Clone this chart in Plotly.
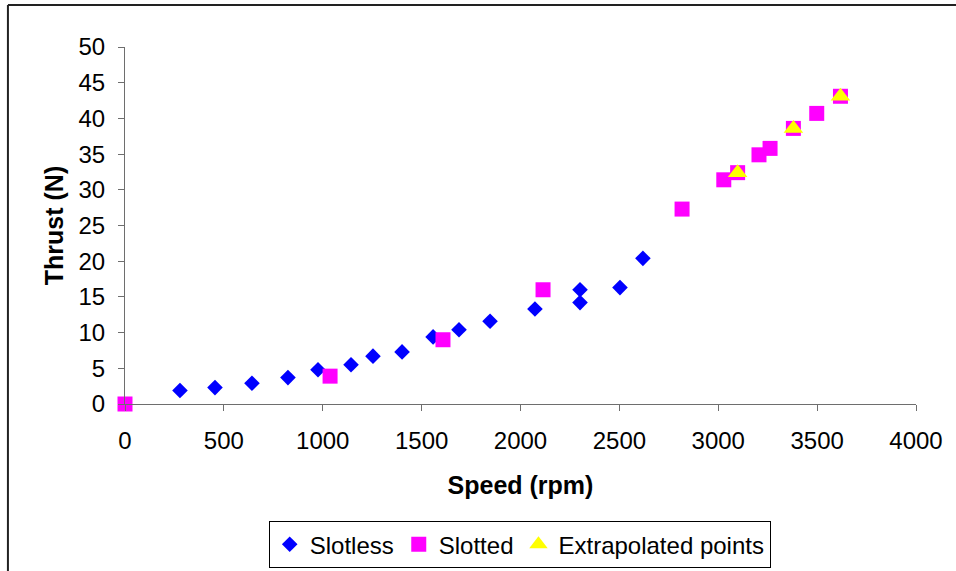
import plotly.graph_objects as go

# Measured thrust against rotor speed
slotless_speed = [278, 455, 642, 824, 976, 1143, 1254, 1401, 1558, 1689, 1846, 2073, 2301, 2301, 2503, 2619]
slotless_thrust = [1.9, 2.3, 2.9, 3.7, 4.8, 5.5, 6.7, 7.3, 9.4, 10.4, 11.6, 13.3, 14.2, 16.0, 16.3, 20.4]

slotted_speed = [0, 1037, 1608, 2114, 2817, 3028, 3098, 3206, 3262, 3380, 3498, 3618]
slotted_thrust = [0.0, 3.9, 9.0, 16.0, 27.3, 31.4, 32.4, 34.9, 35.8, 38.6, 40.7, 43.1]

extrap_speed = [3098, 3380, 3618]
extrap_thrust = [32.4, 38.6, 43.1]

x_ticks = [0, 500, 1000, 1500, 2000, 2500, 3000, 3500, 4000]
y_ticks = [0, 5, 10, 15, 20, 25, 30, 35, 40, 45, 50]

FONT = "Liberation Sans, Arial, sans-serif"

fig = go.Figure()
fig.add_trace(go.Scatter(
    x=slotless_speed, y=slotless_thrust, mode="markers", name="Slotless",
    marker=dict(symbol="diamond", size=12, color="#0000FF", line=dict(width=0)),
    cliponaxis=False))
fig.add_trace(go.Scatter(
    x=slotted_speed, y=slotted_thrust, mode="markers", name="Slotted",
    marker=dict(symbol="square", size=15, color="#FF00FF", line=dict(width=0)),
    cliponaxis=False))
fig.add_trace(go.Scatter(
    x=extrap_speed, y=extrap_thrust, mode="markers", name="Extrapolated points",
    marker=dict(symbol="triangle-up", size=17, color="#FFFF00", line=dict(width=0)),
    cliponaxis=False))

axis_common = dict(
    showgrid=False, zeroline=False, showline=True, linecolor="#6e6e6e", linewidth=1,
    ticks="outside", ticklen=6, tickcolor="#6e6e6e", tickwidth=1,
    tickfont=dict(family=FONT, size=24, color="black"),
    automargin=False,
)

fig.update_xaxes(
    range=[0, 4000], tickvals=x_ticks, ticktext=[str(v) for v in x_ticks],
    ticklabelstandoff=9,
    title=dict(text="<b>Speed (rpm)</b>", font=dict(family=FONT, size=25, color="black"), standoff=23),
    **axis_common)
fig.update_yaxes(
    range=[0, 50], tickvals=y_ticks, ticktext=[str(v) for v in y_ticks],
    ticklabelstandoff=8,
    title=dict(text="<b>Thrust (N)</b>", font=dict(family=FONT, size=25, color="black"), standoff=7),
    **axis_common)

# Chart frame along the top and left edges
fig.add_shape(type="line", xref="paper", yref="paper",
              x0=-0.148, y0=1.1176, x1=1.06, y1=1.1176,
              line=dict(color="#222222", width=2))
fig.add_shape(type="line", xref="paper", yref="paper",
              x0=-0.148, y0=1.1176, x1=-0.148, y1=-0.48,
              line=dict(color="#222222", width=2))

fig.update_layout(
    width=956, height=571,
    margin=dict(l=125, r=40, t=47, b=167, autoexpand=False),
    paper_bgcolor="white", plot_bgcolor="white",
    font=dict(family=FONT, size=25, color="black"),
    showlegend=True,
    legend=dict(
        orientation="h", x=0.499, xanchor="center", y=-0.328, yanchor="top",
        bordercolor="black", borderwidth=1, bgcolor="white",
        font=dict(family=FONT, size=24, color="black"),
        itemwidth=30, tracegroupgap=0,
    ),
)

fig.write_html("out.html")
